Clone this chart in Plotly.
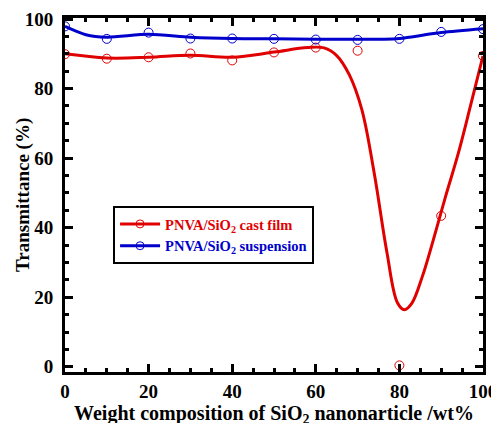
import plotly.graph_objects as go

# Measured points
x_pts = [0, 10, 20, 30, 40, 50, 60, 70, 80, 90, 100]
cast_film = [89.9, 88.6, 89.0, 90.1, 88.1, 90.4, 91.8, 90.9, 0.4, 43.4, 89.4]
suspension = [97.9, 94.3, 96.1, 94.4, 94.4, 94.3, 94.1, 94.0, 94.3, 96.3, 97.1]

# Smooth fit curves
cast_fit_x = [0, 10, 20, 30, 40, 50, 58, 62, 65, 68, 71, 74, 77, 79.5, 81.2, 83, 85.5, 88, 91, 94, 97, 100]
cast_fit_y = [90.0, 88.8, 89.0, 89.6, 89.0, 90.5, 91.8, 91.7, 89.5, 84.0, 74.0, 55.5, 33.0, 18.5, 16.4, 18.3, 26.0, 36.0, 48.8, 61.0, 75.0, 89.4]
susp_fit_x = [0, 5, 10, 20, 30, 40, 50, 60, 70, 76, 80, 90, 100]
susp_fit_y = [97.9, 95.5, 94.8, 95.6, 94.8, 94.4, 94.3, 94.2, 94.2, 94.2, 94.4, 96.1, 97.2]

RED = "#e00000"
BLUE = "#0000cc"
FONT = "Liberation Serif, Times New Roman, serif"

fig = go.Figure()
fig.add_trace(go.Scatter(x=cast_fit_x, y=cast_fit_y, mode="lines", line=dict(color=RED, width=3, shape="spline", smoothing=1.0), showlegend=False, hoverinfo="skip"))
fig.add_trace(go.Scatter(x=susp_fit_x, y=susp_fit_y, mode="lines", line=dict(color=BLUE, width=3, shape="spline", smoothing=0.8), showlegend=False, hoverinfo="skip"))
fig.add_trace(go.Scatter(x=x_pts, y=cast_film, mode="markers",
                         marker=dict(symbol="circle-open", size=9, color=RED, line=dict(width=1, color=RED)), showlegend=False))
fig.add_trace(go.Scatter(x=x_pts, y=suspension, mode="markers",
                         marker=dict(symbol="circle-open", size=9, color=BLUE, line=dict(width=1, color=BLUE)), showlegend=False))
# legend entries
fig.add_trace(go.Scatter(x=[None], y=[None], mode="lines+markers",
                         name="<b><span style='color:#e00000'>PNVA/SiO<sub>2</sub> cast film</span></b>",
                         line=dict(color=RED, width=3), marker=dict(symbol="circle-open", size=8, color=RED)))
fig.add_trace(go.Scatter(x=[None], y=[None], mode="lines+markers",
                         name="<b><span style='color:#0000cc'>PNVA/SiO<sub>2</sub> suspension</span></b>",
                         line=dict(color=BLUE, width=3), marker=dict(symbol="circle-open", size=8, color=BLUE)))

axis_common = dict(showline=True, linecolor="black", linewidth=3, mirror="ticks", ticks="inside",
                   ticklen=8, tickwidth=3, tickcolor="black", showgrid=False, zeroline=False, automargin=False,
                   tickfont=dict(family=FONT, size=19, color="black", weight="bold"),
                   minor=dict(dtick=5, ticks="inside", ticklen=4, tickwidth=3, tickcolor="black", showgrid=False))

fig.update_xaxes(range=[0, 100], dtick=20, tick0=0,
                 title=dict(text="Weight composition of SiO<sub>2</sub> nanonarticle /wt%", standoff=2,
                            font=dict(family=FONT, size=20, color="black", weight="bold")), **axis_common)
fig.update_yaxes(range=[-1.5, 100.3], dtick=20, tick0=0, ticklabelstandoff=5, **axis_common)

fig.add_annotation(text="<b>Transmittance (%)</b>", textangle=-90, xref="paper", yref="paper",
                   x=0, y=0.5, xanchor="center", yanchor="middle", xshift=-42, showarrow=False,
                   font=dict(family=FONT, size=19, color="black"))

# page body has an 8px default margin, so the margins are shifted by 8px
fig.update_layout(width=499, height=423, margin=dict(l=57, r=24, t=10, b=59),
                  plot_bgcolor="white", paper_bgcolor="white",
                  legend=dict(x=0.115, y=0.469, xanchor="left", yanchor="top", bordercolor="black", borderwidth=2,
                              bgcolor="white", font=dict(family=FONT, size=14.5, color="black"), tracegroupgap=0,
                              itemwidth=40))

fig.write_html("out.html")
